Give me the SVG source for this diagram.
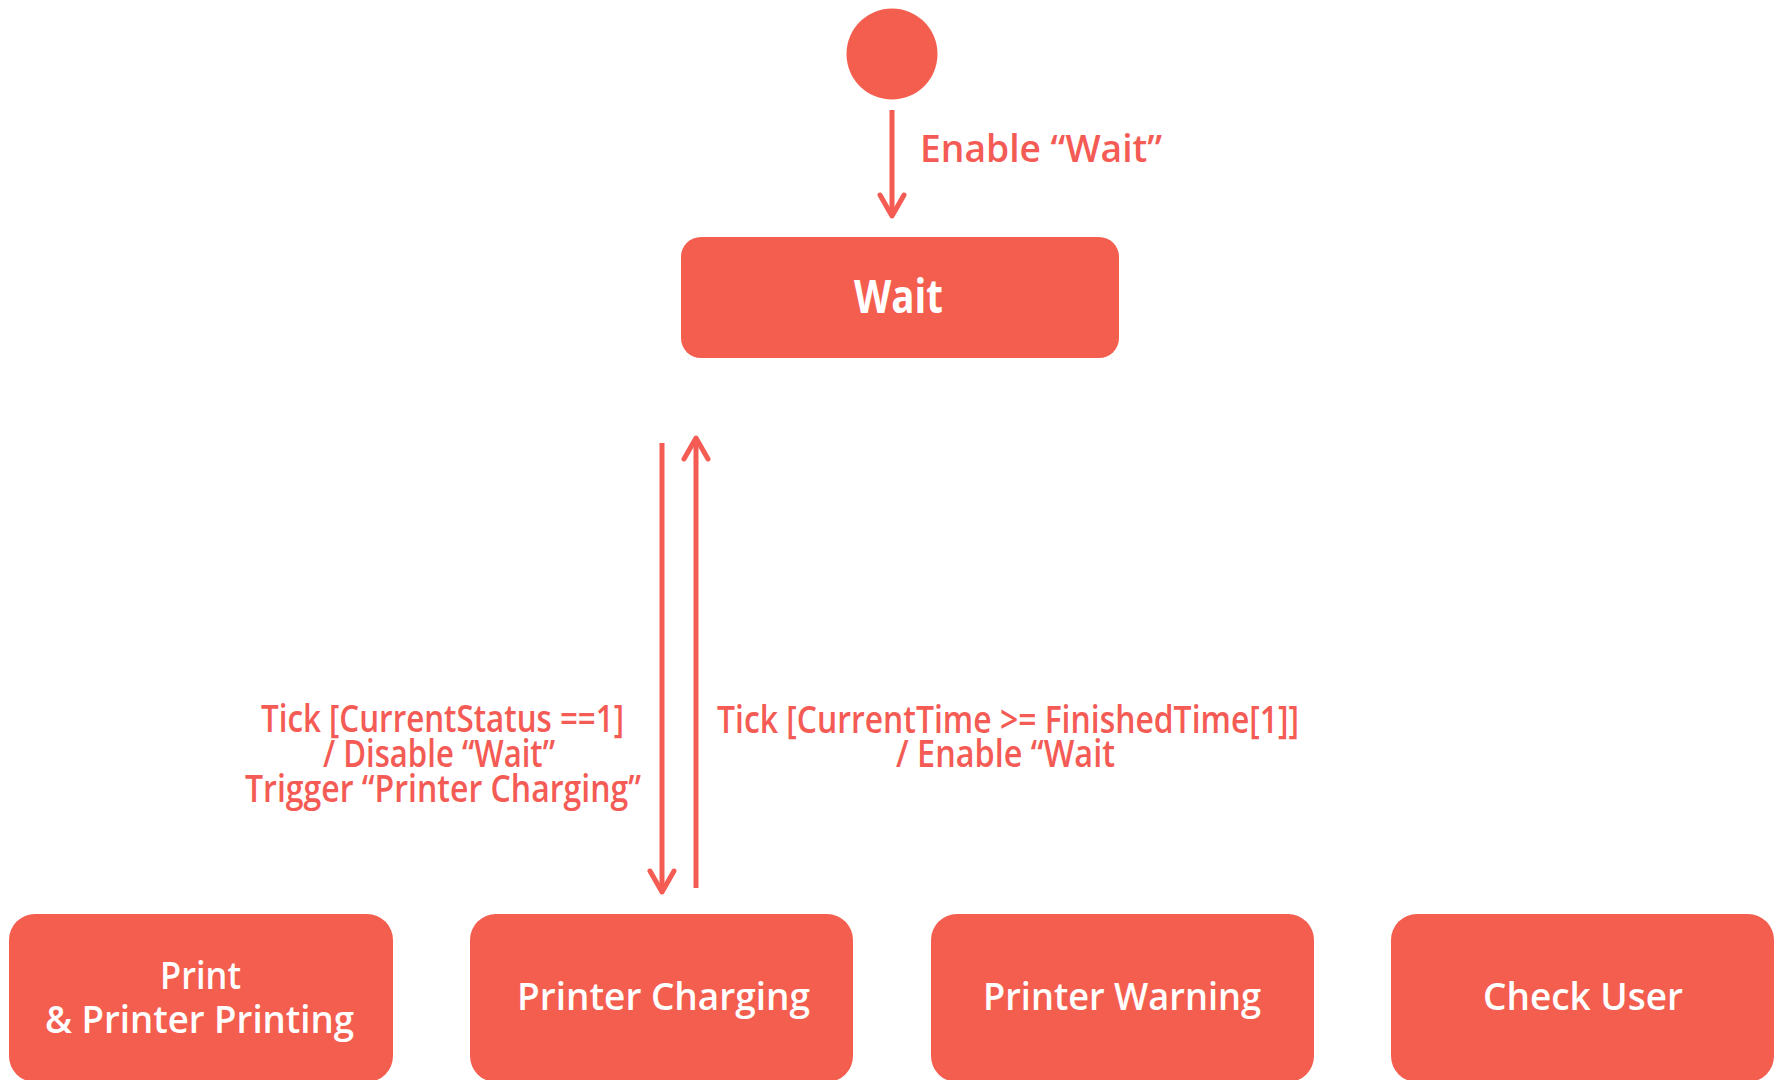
<svg xmlns="http://www.w3.org/2000/svg" width="1783" height="1080" viewBox="0 0 1783 1080">
<style>
.node{fill:#F45E4F}
.ntext{fill:#FFFFFF;font-family:"Open Sans","Noto Sans","Liberation Sans",sans-serif;font-weight:600;font-size:38px}
.wtext{fill:#FFFFFF;font-family:"Open Sans","Noto Sans","Liberation Sans",sans-serif;font-weight:700;font-size:47px}
.edge{fill:none;stroke:#F45B53;stroke-width:5;marker-end:url(#arrow)}
.label{fill:#F45B55;font-family:"Open Sans","Noto Sans","Liberation Sans",sans-serif;font-weight:600;font-size:37px}
</style>
<defs>
<marker id="arrow" markerUnits="userSpaceOnUse" orient="auto" refX="0" refY="0" markerWidth="40" markerHeight="40" viewBox="-30 -20 40 40" overflow="visible">
<path d="M-21,-12 L0,0 L-21,12" fill="none" stroke="#F45B53" stroke-width="5" stroke-linecap="round" stroke-linejoin="round"/>
</marker>
</defs>
<rect width="1783" height="1080" fill="#FFFFFF"/>
<g id="connectors">
<path class="edge" d="M892,110 L892,216"/>
<path class="edge" d="M662,443 L662,892"/>
<path class="edge" d="M696,888 L696,438"/>
<text class="label" x="920" y="162" font-size="40" textLength="242" lengthAdjust="spacingAndGlyphs">Enable “Wait”</text>
<text class="label" x="261" y="732" textLength="363" lengthAdjust="spacingAndGlyphs">Tick [CurrentStatus ==1]</text>
<text class="label" x="323" y="767" textLength="232" lengthAdjust="spacingAndGlyphs">/ Disable “Wait”</text>
<text class="label" x="245" y="802" textLength="396" lengthAdjust="spacingAndGlyphs">Trigger “Printer Charging”</text>
<text class="label" x="717" y="733" textLength="582" lengthAdjust="spacingAndGlyphs">Tick [CurrentTime &gt;= FinishedTime[1]]</text>
<text class="label" x="896" y="767" textLength="219" lengthAdjust="spacingAndGlyphs">/ Enable “Wait</text>
</g>
<g id="node-start">
<circle class="node" cx="892" cy="54" r="45.5"/>
</g>
<g id="node-wait">
<rect class="node" x="681" y="237" width="438" height="121" rx="20" ry="20"/>
<text class="wtext" x="854" y="313" textLength="89" lengthAdjust="spacingAndGlyphs">Wait</text>
</g>
<g id="node-print">
<rect class="node" x="9" y="914" width="384" height="168" rx="26" ry="26"/>
<text class="ntext" x="160" y="989" textLength="81" lengthAdjust="spacingAndGlyphs">Print</text>
<text class="ntext" x="45" y="1033" textLength="309" lengthAdjust="spacingAndGlyphs">&amp; Printer Printing</text>
</g>
<g id="node-charging">
<rect class="node" x="470" y="914" width="383" height="168" rx="26" ry="26"/>
<text class="ntext" x="517" y="1010" textLength="293" lengthAdjust="spacingAndGlyphs">Printer Charging</text>
</g>
<g id="node-warning">
<rect class="node" x="931" y="914" width="383" height="168" rx="26" ry="26"/>
<text class="ntext" x="983" y="1010" textLength="278" lengthAdjust="spacingAndGlyphs">Printer Warning</text>
</g>
<g id="node-checkuser">
<rect class="node" x="1391" y="914" width="383" height="168" rx="26" ry="26"/>
<text class="ntext" x="1483" y="1010" textLength="200" lengthAdjust="spacingAndGlyphs">Check User</text>
</g>
</svg>
